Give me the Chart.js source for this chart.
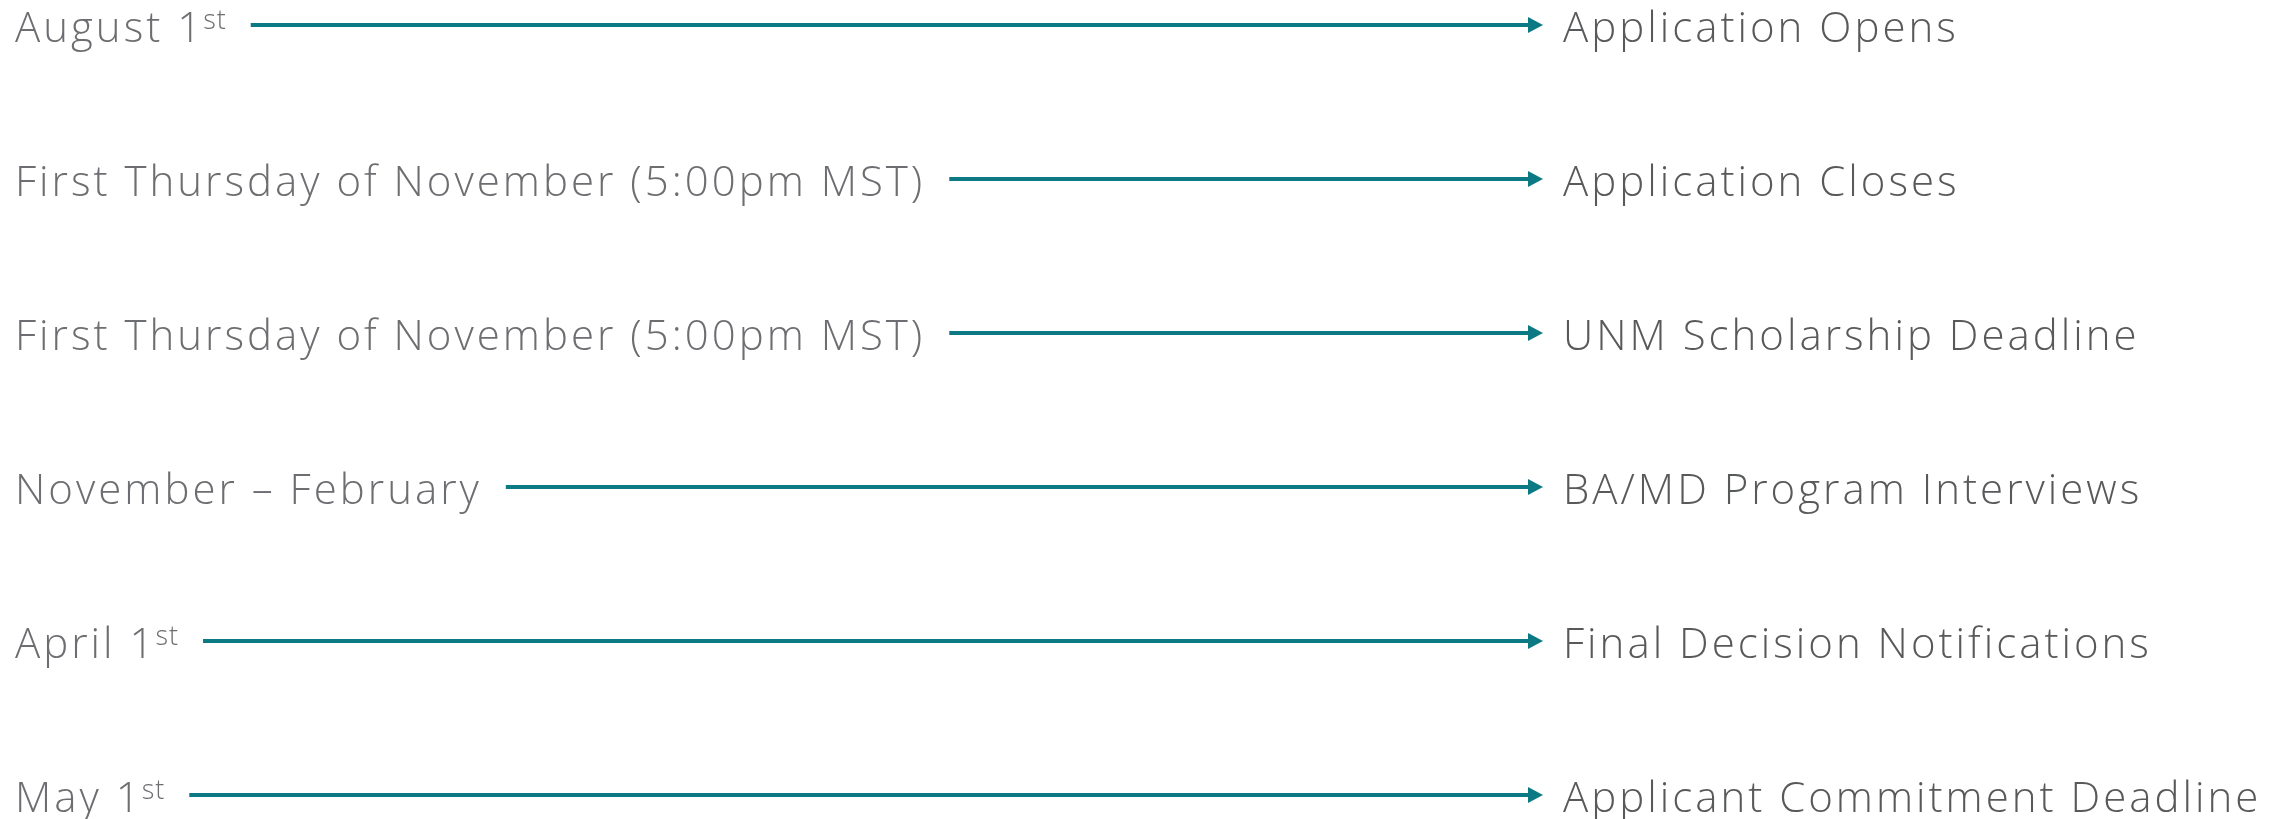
<!DOCTYPE html>
<html>
<head>
<meta charset="utf-8">
<script src="https://cdn.jsdelivr.net/npm/chart.js@4/dist/chart.umd.min.js"></script>
<style>
html,body{margin:0;padding:0;background:#fff;}
#wrap{width:2287px;height:819px;position:relative;}
</style>
</head>
<body>
<div id="wrap"><canvas id="c" width="2287" height="819"></canvas></div>
<script>
// Timeline data
const dates = ['August 1', 'First Thursday of November (5:00pm MST)', 'First Thursday of November (5:00pm MST)', 'November \u2013 February', 'April 1', 'May 1'];
const dateSuffix = ['st', '', '', '', 'st', 'st'];
const milestones = ['Application Opens', 'Application Closes', 'UNM Scholarship Deadline', 'BA/MD Program Interviews', 'Final Decision Notifications', 'Applicant Commitment Deadline'];

const FONT = '"Open Sans", "Lato", sans-serif';
const FS = 42;
const TEAL = '#0b7a84';

const arrowPlugin = {
  id: 'arrows',
  afterDatasetsDraw(chart) {
    const ctx = chart.ctx;
    const ys = chart.scales.y, xs = chart.scales.x;
    const left = chart.chartArea.left;
    const tip = xs.getPixelForValue(1);
    ctx.save();
    dates.forEach((d, i) => {
      const y = ys.getPixelForValue(i);
      const base = y + 17;
      // left label
      ctx.letterSpacing = '3px';
      ctx.font = '300 ' + FS + 'px ' + FONT;
      ctx.fillStyle = '#6d6e71';
      ctx.textBaseline = 'alphabetic';
      ctx.textAlign = 'left';
      ctx.fillText(d, left, base);
      let end = left + ctx.measureText(d).width;
      if (dateSuffix[i]) {
        ctx.letterSpacing = '1px';
        ctx.font = '300 ' + Math.round(FS * 0.64) + 'px ' + FONT;
        ctx.fillText(dateSuffix[i], end - 1, base - 13);
        end += ctx.measureText(dateSuffix[i]).width - 1;
      }
      // arrow
      const x0 = end + 24;
      ctx.strokeStyle = TEAL;
      ctx.lineWidth = 4;
      ctx.beginPath();
      ctx.moveTo(x0, y);
      ctx.lineTo(tip - 12, y);
      ctx.stroke();
      ctx.fillStyle = TEAL;
      ctx.beginPath();
      ctx.moveTo(tip - 15, y - 8);
      ctx.lineTo(tip, y);
      ctx.lineTo(tip - 15, y + 8);
      ctx.closePath();
      ctx.fill();
      // right label
      ctx.letterSpacing = '3px';
      ctx.font = '300 ' + FS + 'px ' + FONT;
      ctx.fillStyle = '#58595b';
      ctx.fillText(milestones[i], tip + 20, base);
    });
    ctx.restore();
  }
};

new Chart(document.getElementById('c'), {
  type: 'line',
  data: { labels: milestones, datasets: [{ data: [], showLine: false, pointRadius: 0 }] },
  options: {
    responsive: false,
    animation: false,
    events: [],
    layout: { padding: { left: 15, right: 744, top: 25, bottom: 24 } },
    plugins: { legend: { display: false }, tooltip: { enabled: false } },
    scales: {
      x: { type: 'linear', min: 0, max: 1, display: false },
      y: { type: 'category', labels: milestones, offset: false, display: false }
    }
  },
  plugins: [arrowPlugin]
});
</script>
</body>
</html>
